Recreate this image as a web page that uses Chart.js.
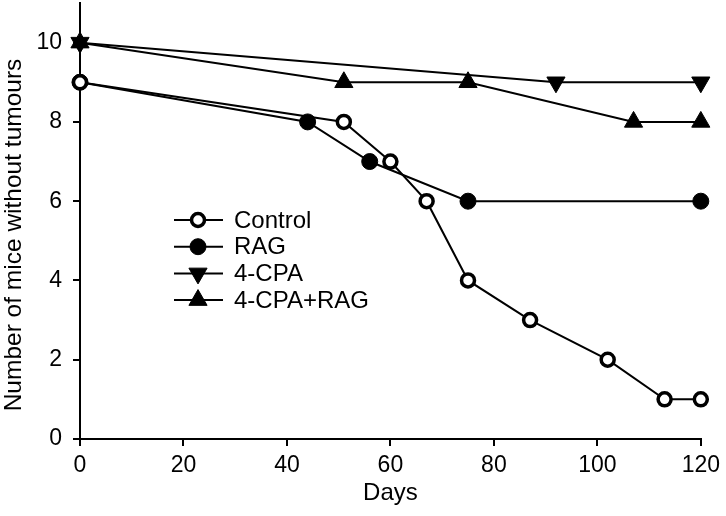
<!DOCTYPE html>
<html>
<head>
<meta charset="UTF-8">
<title>Number of mice without tumours</title>
<script src="https://cdn.jsdelivr.net/npm/chart.js@4/dist/chart.umd.min.js"></script>
<style>
  body { margin: 0; background: #fff; }
  #container { width: 726px; height: 516px; }
</style>
</head>
<body>
<div id="container"><canvas id="canvas"></canvas></div>
<script>
// values
const controlDays = [0, 51, 60, 67, 75, 87, 102, 113, 120];
const controlMice = [9, 8, 7, 6, 4, 3, 2, 1, 1];
const ragDays = [0, 44, 56, 75, 120];
const ragMice = [9, 8, 7, 6, 6];
const cpaDays = [0, 92, 120];
const cpaMice = [10, 9, 9];
const cpaRagDays = [0, 51, 75, 107, 120];
const cpaRagMice = [10, 9, 9, 8, 8];
const xTicks = [0, 20, 40, 60, 80, 100, 120];
const yTicks = [0, 2, 4, 6, 8, 10];
const yTitle = 'Number of mice without tumours';

const FONT = "'Liberation Sans', Arial, sans-serif";
Chart.defaults.font.family = FONT;
Chart.defaults.color = '#000';

function pts(xs, ys) {
  return xs.map((x, i) => ({x: x, y: ys[i]}));
}

function series(label, xs, ys, style) {
  return Object.assign({
    label: label,
    data: pts(xs, ys),
    showLine: true,
    borderColor: '#000',
    borderWidth: 2,
    pointBorderColor: '#000',
    pointBackgroundColor: '#000',
    pointBorderWidth: 1,
    clip: false
  }, style);
}

// legend sits inside the plot, line + marker like the figure
// y title drawn here too, it sits a little below the axis centre in the figure
const insideLegend = {
  id: 'insideLegend',
  afterDatasetsDraw(chart) {
    const ctx = chart.ctx;
    const a = chart.chartArea;
    const x0 = a.left + 94, x1 = a.left + 143, xm = a.left + 118, xt = a.left + 154;
    chart.data.datasets.forEach((ds, i) => {
      const y = a.top + 217 + i * 26.7;
      ctx.save();
      ctx.strokeStyle = '#000';
      ctx.lineWidth = 2;
      ctx.beginPath();
      ctx.moveTo(x0, y);
      ctx.lineTo(x1, y);
      ctx.stroke();
      ctx.fillStyle = ds.pointBackgroundColor;
      ctx.strokeStyle = ds.pointBorderColor;
      ctx.lineWidth = ds.pointBorderWidth;
      Chart.helpers.drawPoint(ctx, {
        pointStyle: ds.pointStyle,
        radius: ds.pointRadius,
        rotation: ds.pointRotation || 0,
        borderWidth: ds.pointBorderWidth
      }, xm, y);
      ctx.fillStyle = '#000';
      ctx.font = '24px ' + FONT;
      ctx.textAlign = 'left';
      ctx.textBaseline = 'middle';
      ctx.fillText(ds.label, xt, y + 1);
      ctx.restore();
    });

    ctx.save();
    ctx.translate(21, (a.top + a.bottom) / 2 + 14);
    ctx.rotate(-Math.PI / 2);
    ctx.fillStyle = '#000';
    ctx.font = '24.5px ' + FONT;
    ctx.textAlign = 'center';
    ctx.textBaseline = 'alphabetic';
    ctx.fillText(yTitle, 0, 0);
    ctx.restore();
  }
};

new Chart(document.getElementById('canvas'), {
  type: 'scatter',
  data: {
    datasets: [
      series('Control', controlDays, controlMice, {
        pointStyle: 'circle', pointRadius: 6.5, pointBorderWidth: 3.5,
        pointBackgroundColor: '#fff'
      }),
      series('RAG', ragDays, ragMice, {pointStyle: 'circle', pointRadius: 8}),
      series('4-CPA', cpaDays, cpaMice, {pointStyle: 'triangle', pointRadius: 10.5, pointRotation: 180}),
      series('4-CPA+RAG', cpaRagDays, cpaRagMice, {pointStyle: 'triangle', pointRadius: 10.5})
    ]
  },
  options: {
    responsive: true,
    maintainAspectRatio: false,
    animation: false,
    layout: {autoPadding: false, padding: {top: 3, right: 23, left: 0, bottom: 0}},
    plugins: {
      legend: {display: false},
      tooltip: {enabled: false}
    },
    elements: {point: {hoverRadius: 8}},
    scales: {
      x: {
        type: 'linear',
        min: 0,
        max: 120,
        afterBuildTicks: s => { s.ticks = xTicks.map(v => ({value: v})); },
        afterFit: s => { s.height = 77; },
        ticks: {font: {size: 23}, padding: 6, maxRotation: 0},
        grid: {drawOnChartArea: false, drawTicks: true, tickLength: 7, color: '#000', lineWidth: 2},
        border: {color: '#000', width: 2},
        title: {display: true, text: 'Days', font: {size: 24}, padding: {top: 0, bottom: 8}}
      },
      y: {
        type: 'linear',
        min: 0,
        max: 11,
        afterBuildTicks: s => { s.ticks = yTicks.map(v => ({value: v})); },
        afterFit: s => { s.width = 80; s.paddingTop = 0; s.paddingBottom = 0; },
        ticks: {font: {size: 23}, padding: 11},
        grid: {drawOnChartArea: false, drawTicks: true, tickLength: 7, color: '#000', lineWidth: 2},
        border: {color: '#000', width: 2},
        title: {display: false}
      }
    }
  },
  plugins: [insideLegend]
});
</script>
</body>
</html>
